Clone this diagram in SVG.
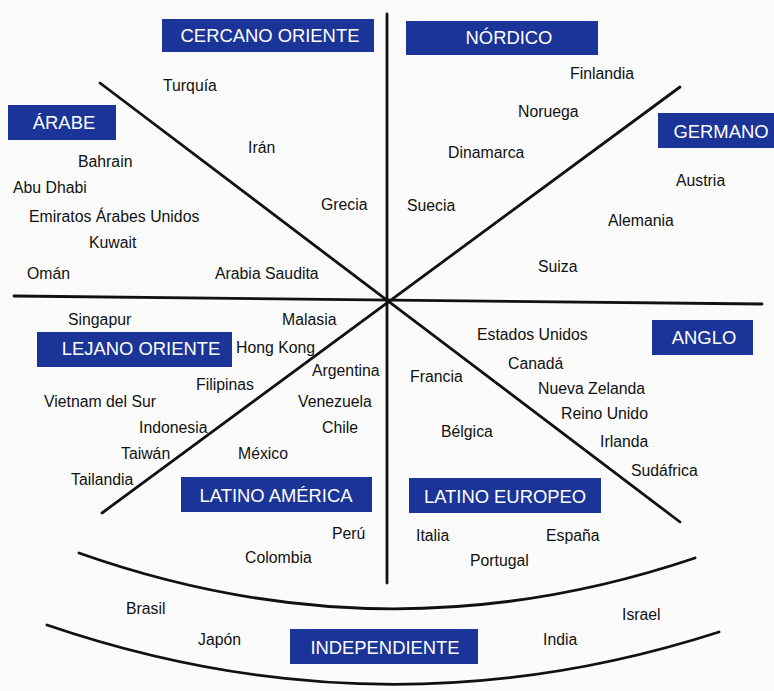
<svg xmlns="http://www.w3.org/2000/svg" width="774" height="691" viewBox="0 0 774 691">
<style>
.box{fill:#1b3497}
.lbl{font-family:"Liberation Sans",Arial,sans-serif;font-size:18.4px;fill:#fff;text-anchor:middle}
.t{font-family:"Liberation Sans",Arial,sans-serif;font-size:15.8px;fill:#111}
.ln{stroke:#111;stroke-width:2.8;fill:none;stroke-linecap:round}
</style>
<rect width="774" height="691" fill="#fbfbfb"/>
<g id="connectors">
<line class="ln" x1="387" y1="14" x2="387" y2="583"/>
<line class="ln" x1="14" y1="296" x2="762" y2="304"/>
<line class="ln" x1="100" y1="83" x2="680" y2="522"/>
<line class="ln" x1="680" y1="87" x2="102" y2="513"/>
<path class="ln" d="M79,553 Q387,662 695,558"/>
<path class="ln" d="M47,625 Q384,740 719,632"/>
</g>
<g id="cercano-oriente">
<rect class="box" x="162" y="19" width="212" height="33"/>
<text class="lbl" x="270" y="42">CERCANO ORIENTE</text>
<text class="t" x="163" y="91">Turquía</text>
<text class="t" x="248" y="153">Irán</text>
<text class="t" x="321" y="210">Grecia</text>
<text class="t" x="215" y="279">Arabia Saudita</text>
</g>
<g id="arabe">
<rect class="box" x="8" y="105" width="108" height="35"/>
<text class="lbl" x="64" y="129">ÁRABE</text>
<text class="t" x="78" y="167">Bahrain</text>
<text class="t" x="13" y="193">Abu Dhabi</text>
<text class="t" x="29" y="222">Emiratos Árabes Unidos</text>
<text class="t" x="89" y="248">Kuwait</text>
<text class="t" x="27" y="279">Omán</text>
</g>
<g id="nordico">
<rect class="box" x="406" y="21" width="192" height="34"/>
<text class="lbl" x="509" y="44">NÓRDICO</text>
<text class="t" x="570" y="79">Finlandia</text>
<text class="t" x="518" y="117">Noruega</text>
<text class="t" x="448" y="158">Dinamarca</text>
<text class="t" x="407" y="211">Suecia</text>
</g>
<g id="germano">
<rect class="box" x="658" y="113" width="120" height="35"/>
<text class="lbl" x="721" y="138">GERMANO</text>
<text class="t" x="676" y="186">Austria</text>
<text class="t" x="608" y="226">Alemania</text>
<text class="t" x="538" y="272">Suiza</text>
</g>
<g id="lejano-oriente">
<rect class="box" x="37" y="332" width="195" height="35"/>
<text class="lbl" x="141" y="355">LEJANO ORIENTE</text>
<text class="t" x="68" y="325">Singapur</text>
<text class="t" x="282" y="325">Malasia</text>
<text class="t" x="236" y="353">Hong Kong</text>
<text class="t" x="196" y="390">Filipinas</text>
<text class="t" x="44" y="407">Vietnam del Sur</text>
<text class="t" x="139" y="433">Indonesia</text>
<text class="t" x="121" y="459">Taiwán</text>
<text class="t" x="71" y="485">Tailandia</text>
</g>
<g id="latino-america">
<rect class="box" x="181" y="477" width="191" height="35"/>
<text class="lbl" x="276" y="502">LATINO AMÉRICA</text>
<text class="t" x="312" y="376">Argentina</text>
<text class="t" x="298" y="407">Venezuela</text>
<text class="t" x="322" y="433">Chile</text>
<text class="t" x="238" y="459">México</text>
<text class="t" x="332" y="539">Perú</text>
<text class="t" x="245" y="563">Colombia</text>
</g>
<g id="anglo">
<rect class="box" x="652" y="320" width="101" height="35"/>
<text class="lbl" x="704" y="344">ANGLO</text>
<text class="t" x="477" y="340">Estados Unidos</text>
<text class="t" x="508" y="369">Canadá</text>
<text class="t" x="538" y="394">Nueva Zelanda</text>
<text class="t" x="561" y="419">Reino Unido</text>
<text class="t" x="600" y="447">Irlanda</text>
<text class="t" x="631" y="476">Sudáfrica</text>
</g>
<g id="latino-europeo">
<rect class="box" x="409" y="478" width="192" height="35"/>
<text class="lbl" x="505" y="503">LATINO EUROPEO</text>
<text class="t" x="410" y="382">Francia</text>
<text class="t" x="441" y="437">Bélgica</text>
<text class="t" x="416" y="541">Italia</text>
<text class="t" x="546" y="541">España</text>
<text class="t" x="470" y="566">Portugal</text>
</g>
<g id="independiente">
<rect class="box" x="290" y="629" width="188" height="35"/>
<text class="lbl" x="385" y="654">INDEPENDIENTE</text>
<text class="t" x="126" y="614">Brasil</text>
<text class="t" x="622" y="620">Israel</text>
<text class="t" x="198" y="645">Japón</text>
<text class="t" x="543" y="645">India</text>
</g>
</svg>
